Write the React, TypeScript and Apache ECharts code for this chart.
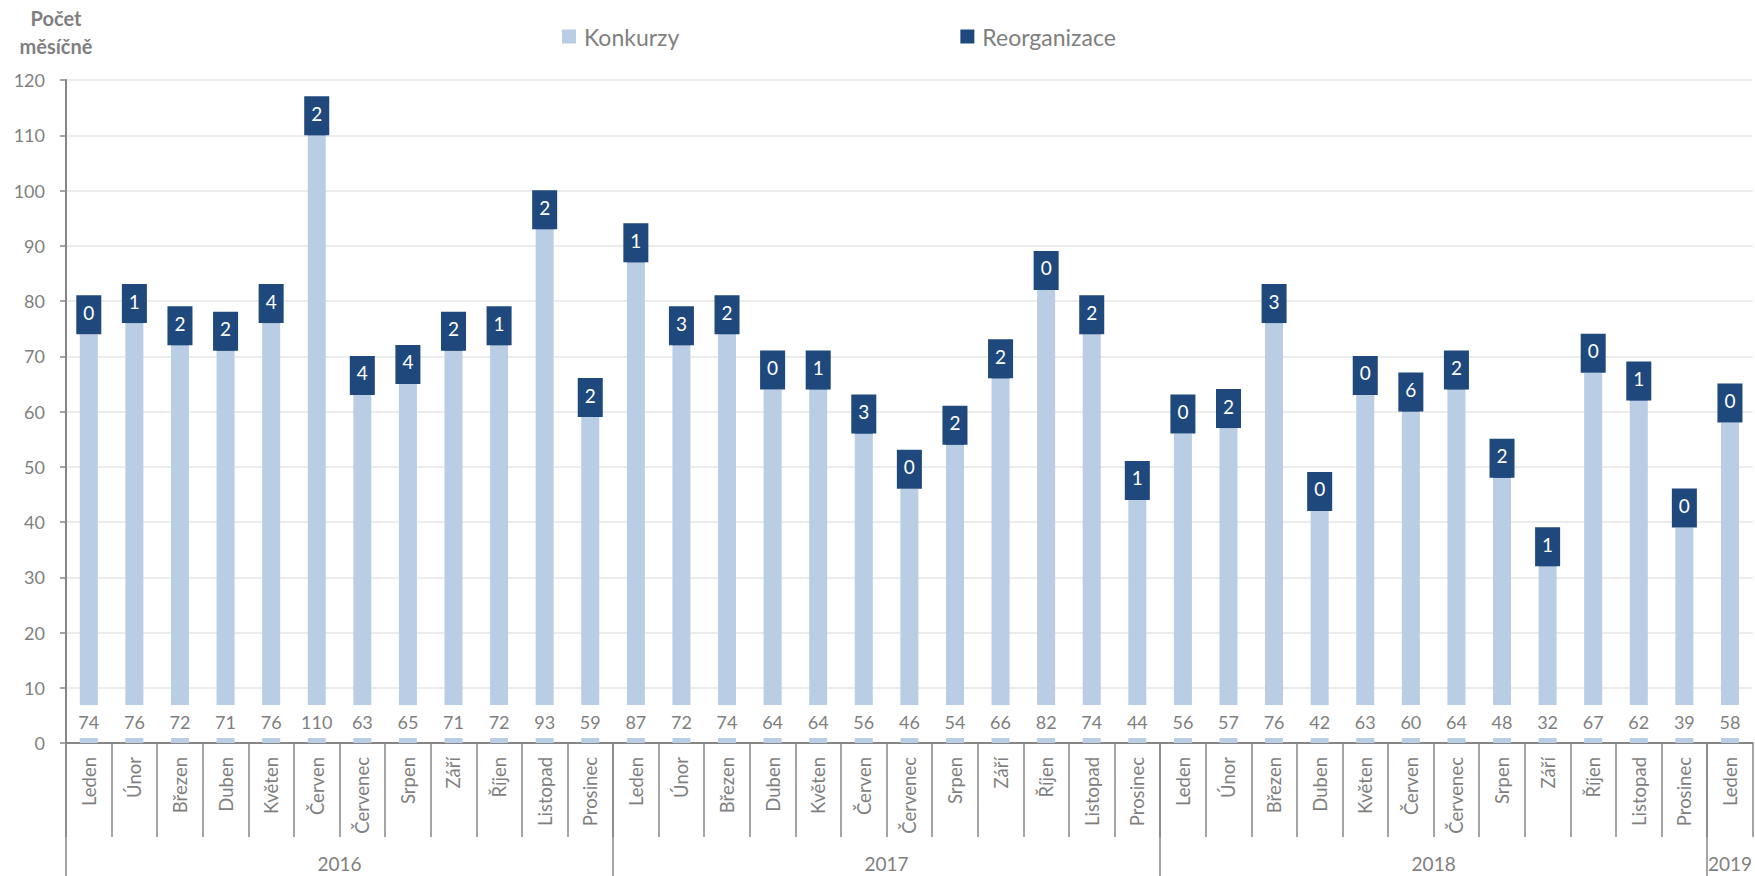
import React, { useEffect, useRef } from "react";
import * as echarts from "echarts";

const months = ["Leden", "Únor", "Březen", "Duben", "Květen", "Červen", "Červenec", "Srpen", "Září", "Říjen", "Listopad", "Prosinec"];
const years = ["2016", "2017", "2018", "2019"];
const monthsPerYear = [12, 12, 12, 1];
const konkurzy = [
  74, 76, 72, 71, 76, 110, 63, 65, 71, 72, 93, 59,
  87, 72, 74, 64, 64, 56, 46, 54, 66, 82, 74, 44,
  56, 57, 76, 42, 63, 60, 64, 48, 32, 67, 62, 39,
  58,
];
const reorganizace = [
  0, 1, 2, 2, 4, 2, 4, 4, 2, 1, 2, 2,
  1, 3, 2, 0, 1, 3, 0, 2, 2, 0, 2, 1,
  0, 2, 3, 0, 0, 6, 2, 2, 1, 0, 1, 0,
  0,
];
const yTicks = { min: 0, max: 120, interval: 10 };

const FONT = "Lato";
const GRAY = "#7f7f7f";
const AXIS = "#868686";

export default function App() {
  const ref = useRef<HTMLDivElement>(null);
  useEffect(() => {
    document.body.style.margin = "0";
    const chart = echarts.init(ref.current!, null, { renderer: "svg" });

    const categories: string[] = [];
    const yearBounds: number[] = [0];
    const yearMids: number[] = [];
    let acc = 0;
    monthsPerYear.forEach((n) => {
      for (let i = 0; i < n; i++) categories.push(months[i]);
      yearMids.push(acc + n / 2);
      acc += n;
      yearBounds.push(acc);
    });
    const yearLabelOf = (v: number) => {
      const idx = yearMids.findIndex((m) => Math.abs(m - v) < 1e-6);
      return idx >= 0 ? years[idx] : "";
    };

    chart.setOption({
      animation: false,
      textStyle: { fontFamily: FONT },
      title: {
        text: "Počet\nměsíčně",
        left: 51,
        top: -1,
        textAlign: "center",
        textStyle: { fontFamily: FONT, fontSize: 20, fontWeight: "bold", color: GRAY, lineHeight: 28, align: "center" },
      },
      legend: {
        left: 562,
        top: 25,
        padding: 0,
        itemWidth: 14,
        itemHeight: 14,
        itemGap: 281,
        icon: "rect",
        textStyle: { fontFamily: FONT, fontSize: 23, color: GRAY, padding: [0, 0, 0, 3] },
        data: ["Konkurzy", "Reorganizace"],
      },
      grid: { left: 66, right: 0, top: 80, bottom: 133, containLabel: false },
      xAxis: [
        {
          type: "category",
          data: categories,
          axisLine: { show: true, lineStyle: { color: AXIS, width: 2 } },
          axisTick: { show: true, interval: 0, length: 94, lineStyle: { color: AXIS, width: 1.5 } },
          axisLabel: { interval: 0, rotate: 90, margin: 14, fontSize: 18.5, color: GRAY, fontFamily: FONT },
        },
        {
          type: "value",
          min: 0,
          max: acc,
          position: "bottom",
          axisLine: { show: false },
          splitLine: { show: false },
          axisTick: { show: true, length: 135, customValues: yearBounds.slice(0, -1), lineStyle: { color: AXIS, width: 1.5 } },
          axisLabel: { show: true, customValues: yearMids, margin: 111, fontSize: 19, color: GRAY, fontFamily: FONT, formatter: (v: number) => yearLabelOf(v) },
        },
      ],
      yAxis: {
        type: "value",
        min: yTicks.min,
        max: yTicks.max,
        interval: yTicks.interval,
        axisLine: { show: true, lineStyle: { color: AXIS, width: 2 } },
        axisTick: { show: true, length: 6, lineStyle: { color: AXIS, width: 1.5 } },
        axisLabel: { margin: 21, fontSize: 18, color: GRAY, fontFamily: FONT },
        splitLine: { show: true, lineStyle: { color: "#e6e6e6", width: 1.5 } },
      },
      series: [
        {
          name: "Konkurzy",
          type: "bar",
          stack: "a",
          barWidth: 18,
          itemStyle: { color: "#B9CDE5" },
          label: {
            show: true,
            position: "insideBottom",
            distance: 5,
            backgroundColor: "#ffffff",
            padding: [8, 3, 8, 3],
            fontSize: 18,
            lineHeight: 17,
            color: GRAY,
            fontFamily: FONT,
          },
          data: konkurzy,
        },
        {
          name: "Reorganizace",
          type: "bar",
          stack: "a",
          barWidth: 18,
          itemStyle: { color: "#1F497D" },
          label: {
            show: true,
            position: "insideBottom",
            distance: 0,
            backgroundColor: "#1F497D",
            padding: [8, 7, 13, 7],
            fontSize: 19,
            lineHeight: 18,
            color: "#ffffff",
            fontFamily: FONT,
          },
          data: reorganizace,
        },
      ],
    });
    return () => chart.dispose();
  }, []);
  return <div ref={ref} style={{ width: 1755, height: 876 }} />;
}
